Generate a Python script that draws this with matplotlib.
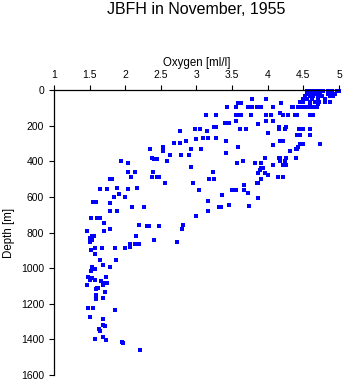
import matplotlib
matplotlib.use("Agg")
import matplotlib.pyplot as plt

plt.rcParams['font.family'] = ['Liberation Sans', 'DejaVu Sans']

# surface cluster (depth < 100 m)
top_oxygen = [4.55, 4.6, 4.62, 4.65, 4.68, 4.7, 4.72, 4.75, 4.78, 4.85, 4.88, 4.9, 4.97, 5.0,
              4.57, 4.63, 4.67, 4.71, 4.74, 4.86, 4.89,
              4.55, 4.58, 4.62, 4.66, 4.7, 4.74, 4.85, 4.9, 4.95,
              4.52, 4.6, 4.64, 4.7, 4.76, 4.88, 4.92,
              4.5, 4.55, 4.62, 4.7, 4.8,
              4.45, 4.5, 4.6, 4.66, 4.72, 4.8, 4.88,
              4.6, 4.7,
              4.34, 4.36, 4.43, 4.45, 4.5, 4.53, 4.57, 4.6, 4.64, 4.69]
top_depth = [5, 5, 5, 5, 5, 5, 5, 5, 5, 5, 5, 5, 5, 5,
             12, 12, 12, 12, 12, 12, 12,
             20, 20, 20, 20, 20, 20, 20, 20, 20,
             35, 35, 35, 35, 35, 35, 35,
             50, 50, 50, 50, 50,
             65, 65, 65, 65, 65, 65, 65,
             78, 78,
             97, 97, 97, 97, 97, 97, 97, 97, 97, 97]

# upper water column, 50-800 m
mid_oxygen = [3.78, 3.97,
              3.58, 3.63, 4.18,
              3.43, 3.55, 3.72, 3.78, 3.85, 3.90, 4.07,
              4.17,
              3.13, 3.27, 3.55, 3.58, 3.63, 3.76, 3.98, 4.04, 4.21, 4.29, 4.38, 4.41, 4.59, 4.64,
              3.55, 3.98, 4.07,
              3.45, 3.40,
              3.87,
              3.28, 3.24, 4.16, 4.25,
              2.98, 3.05, 4.16, 3.61, 3.69, 4.24, 4.44, 4.50, 4.60,
              2.77, 3.15,
              4.00,
              4.41, 4.45, 4.60,
              3.09, 3.16, 3.27,
              3.00,
              2.85, 3.42, 4.17, 4.22,
              2.77, 2.69,
              4.46, 4.49, 4.73,
              4.07,
              2.53, 3.58, 4.43,
              2.35, 4.40, 4.41,
              2.93, 3.06,
              2.53, 4.31,
              3.42,
              2.63, 2.78, 2.89,
              2.38, 3.96, 4.16, 4.17, 4.26, 4.39,
              2.40, 2.45,
              1.94, 2.59, 3.66, 4.17, 4.24,
              2.04, 3.57, 3.82, 3.91,
              4.07, 4.08, 4.22, 4.25,
              2.93,
              3.91, 3.94,
              3.89,
              2.39, 2.14, 2.04, 3.23,
              3.96, 3.87,
              4.00,
              2.08, 2.38, 2.44, 2.48, 4.14, 4.21,
              1.82, 1.79, 3.24, 3.18, 3.90,
              2.56, 2.95, 3.86, 3.85,
              3.67,
              1.88, 2.17,
              1.65, 1.75, 2.04,
              3.03, 3.50, 3.55, 3.67,
              3.72,
              1.91,
              3.36,
              1.84, 1.99,
              3.87,
              3.16,
              1.55, 1.59,
              1.78,
              3.46,
              3.74,
              2.10, 2.27, 3.31, 3.34,
              1.79, 1.89, 3.16,
              3.00,
              1.60, 1.65, 1.52,
              1.70,
              2.20, 2.81,
              2.31, 2.34, 2.47,
              1.78, 2.79,
              1.47, 1.70]
mid_depth = [49, 49,
             71, 71, 71,
             95, 95, 95, 95, 95, 95, 95,
             127,
             142, 142, 142, 142, 142, 142, 142, 142, 142, 142, 142, 142, 142, 142,
             172, 172, 172,
             183, 183,
             193,
             206, 206, 206, 206,
             221, 221, 221, 221, 221, 221, 221, 221, 221,
             230, 230,
             243,
             254, 254, 254,
             267, 267, 267,
             277,
             286, 286, 286, 286,
             295, 295,
             305, 305, 305,
             310,
             320, 320, 320,
             329, 329, 329,
             333, 333,
             342, 342,
             355,
             366, 366, 366,
             381, 381, 381, 381, 381, 381,
             389, 389,
             400, 400, 400, 400, 400,
             411, 411, 411, 411,
             422, 422, 422, 422,
             430,
             437, 437,
             449,
             460, 460, 460, 460,
             467, 467,
             475,
             486, 486, 486, 486, 486, 486,
             501, 501, 501, 501, 501,
             520, 520, 520, 520,
             535,
             548, 548,
             557, 557, 557,
             564, 564, 564, 564,
             576,
             581,
             592,
             598, 598,
             609,
             622,
             628, 628,
             635,
             643,
             650,
             656, 656, 656, 656,
             678, 678, 678,
             706,
             716, 716, 716,
             744,
             759, 759,
             763, 763, 763,
             781, 781,
             791, 791]

# deep water, below 800 m
deep_oxygen = [1.53, 1.54, 1.56, 2.15,
               1.51,
               1.53, 2.41,
               1.51, 2.73,
               2.07, 2.14, 2.19,
               2.07,
               1.58, 1.67, 1.86, 2.00,
               1.52,
               1.58,
               1.65, 1.87,
               1.69,
               1.54,
               1.79,
               1.57,
               1.52,
               1.48, 1.73,
               1.54,
               1.57, 1.51,
               1.66,
               1.69, 1.75,
               1.47, 1.69,
               1.62, 1.60,
               1.59,
               1.72,
               1.59,
               1.69,
               1.59,
               1.48, 1.55,
               1.86,
               1.50,
               1.69,
               1.69,
               1.72,
               1.63,
               1.65,
               1.69,
               1.58,
               1.73,
               1.96,
               1.97,
               2.21]
deep_depth = [822, 822, 822, 822,
              832,
              841, 841,
              854, 854,
              864, 864, 864,
              879,
              888, 888, 888, 888,
              897,
              920,
              953, 953,
              981,
              991,
              994,
              1006,
              1017,
              1047, 1047,
              1056,
              1065, 1065,
              1075,
              1084, 1084,
              1093, 1093,
              1112, 1112,
              1118,
              1135,
              1151,
              1168,
              1174,
              1224, 1224,
              1235,
              1277,
              1286,
              1320,
              1325,
              1340,
              1351,
              1385,
              1396,
              1402,
              1415,
              1420,
              1460]

x_ticks = [1, 1.5, 2, 2.5, 3, 3.5, 4, 4.5, 5]
x_tick_labels = ['1', '1.5', '2', '2.5', '3', '3.5', '4', '4.5', '5']
y_ticks = [0, 200, 400, 600, 800, 1000, 1200, 1400, 1600]

fig = plt.figure(figsize=(3.45, 3.84), dpi=100)
ax = fig.add_axes([0.1565, 0.0234, 0.826, 0.7422])

oxygen = top_oxygen + mid_oxygen + deep_oxygen
depth = top_depth + mid_depth + deep_depth
ax.scatter(oxygen, depth, marker='s', s=5, color='#0000ff', linewidths=0, clip_on=False)

ax.set_xlim(1, 5)
ax.set_ylim(1600, 0)
ax.xaxis.tick_top()
ax.xaxis.set_label_position('top')
ax.set_xticks(x_ticks)
ax.set_xticklabels(x_tick_labels)
ax.set_yticks(y_ticks)
ax.tick_params(axis='both', direction='out', length=3.6, width=0.8, labelsize=7.5, pad=3.5, colors='black')
ax.spines['right'].set_visible(False)
ax.spines['bottom'].set_visible(False)
ax.spines['top'].set_linewidth(0.9)
ax.spines['left'].set_linewidth(0.9)
ax.set_xlabel('Oxygen [ml/l]', fontsize=8.3, labelpad=3)
ax.set_ylabel('Depth [m]', fontsize=8.3, labelpad=4)

fig.text(196.5 / 345, 1 - 2 / 384, 'JBFH in November, 1955', ha='center', va='top', fontsize=11.5)

fig.savefig('out.png', dpi=100)
